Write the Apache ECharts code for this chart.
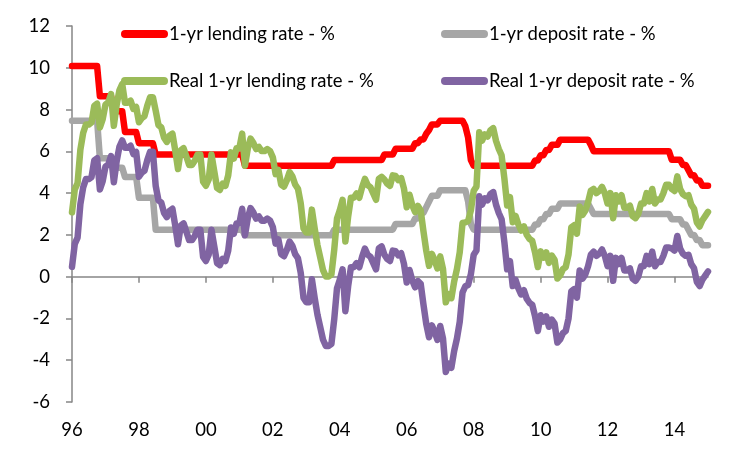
<!DOCTYPE html>
<html>
<head>
<meta charset="utf-8">
<title>China 1-yr rates</title>
<script src="https://cdn.jsdelivr.net/npm/echarts@6/dist/echarts.min.js"></script>
<style>
  html, body { margin: 0; padding: 0; background: #fff; }
  #main { width: 750px; height: 452px; }
</style>
</head>
<body>
<div id="main"></div>
<script>
// monthly, Dec-96 .. Dec-15 (229 points), one row per year
var lending = [
  10.08,
  10.08,10.08,10.08,10.08,10.08,10.08,10.08,10.08,10.08,8.64,8.64,8.64,
  8.64,8.64,7.92,7.92,7.92,7.92,6.93,6.93,6.93,6.93,6.93,6.39,
  6.39,6.39,6.39,6.39,6.39,5.85,5.85,5.85,5.85,5.85,5.85,5.85,
  5.85,5.85,5.85,5.85,5.85,5.85,5.85,5.85,5.85,5.85,5.85,5.85,
  5.85,5.85,5.85,5.85,5.85,5.85,5.85,5.85,5.85,5.85,5.85,5.85,
  5.85,5.31,5.31,5.31,5.31,5.31,5.31,5.31,5.31,5.31,5.31,5.31,
  5.31,5.31,5.31,5.31,5.31,5.31,5.31,5.31,5.31,5.31,5.31,5.31,
  5.31,5.31,5.31,5.31,5.31,5.31,5.31,5.31,5.31,5.58,5.58,5.58,
  5.58,5.58,5.58,5.58,5.58,5.58,5.58,5.58,5.58,5.58,5.58,5.58,
  5.58,5.58,5.58,5.85,5.85,5.85,5.85,6.12,6.12,6.12,6.12,6.12,
  6.12,6.12,6.39,6.39,6.57,6.57,6.84,7.02,7.29,7.29,7.29,7.47,
  7.47,7.47,7.47,7.47,7.47,7.47,7.47,7.47,7.20,6.66,5.58,5.31,
  5.31,5.31,5.31,5.31,5.31,5.31,5.31,5.31,5.31,5.31,5.31,5.31,
  5.31,5.31,5.31,5.31,5.31,5.31,5.31,5.31,5.31,5.56,5.56,5.81,
  5.81,6.06,6.06,6.31,6.31,6.31,6.56,6.56,6.56,6.56,6.56,6.56,
  6.56,6.56,6.56,6.56,6.56,6.31,6.00,6.00,6.00,6.00,6.00,6.00,
  6.00,6.00,6.00,6.00,6.00,6.00,6.00,6.00,6.00,6.00,6.00,6.00,
  6.00,6.00,6.00,6.00,6.00,6.00,6.00,6.00,6.00,6.00,5.60,5.60,
  5.60,5.60,5.35,5.35,5.10,4.85,4.85,4.60,4.60,4.35,4.35,4.35
];
var deposit = [
  7.47,
  7.47,7.47,7.47,7.47,7.47,7.47,7.47,7.47,7.47,5.67,5.67,5.67,
  5.67,5.67,5.22,5.22,5.22,5.22,4.77,4.77,4.77,4.77,4.77,3.78,
  3.78,3.78,3.78,3.78,3.78,2.25,2.25,2.25,2.25,2.25,2.25,2.25,
  2.25,2.25,2.25,2.25,2.25,2.25,2.25,2.25,2.25,2.25,2.25,2.25,
  2.25,2.25,2.25,2.25,2.25,2.25,2.25,2.25,2.25,2.25,2.25,2.25,
  2.25,1.98,1.98,1.98,1.98,1.98,1.98,1.98,1.98,1.98,1.98,1.98,
  1.98,1.98,1.98,1.98,1.98,1.98,1.98,1.98,1.98,1.98,1.98,1.98,
  1.98,1.98,1.98,1.98,1.98,1.98,1.98,1.98,1.98,2.25,2.25,2.25,
  2.25,2.25,2.25,2.25,2.25,2.25,2.25,2.25,2.25,2.25,2.25,2.25,
  2.25,2.25,2.25,2.25,2.25,2.25,2.25,2.52,2.52,2.52,2.52,2.52,
  2.52,2.52,2.79,2.79,3.06,3.06,3.33,3.60,3.87,3.87,3.87,4.14,
  4.14,4.14,4.14,4.14,4.14,4.14,4.14,4.14,4.14,3.60,2.52,2.25,
  2.25,2.25,2.25,2.25,2.25,2.25,2.25,2.25,2.25,2.25,2.25,2.25,
  2.25,2.25,2.25,2.25,2.25,2.25,2.25,2.25,2.25,2.50,2.50,2.75,
  2.75,3.00,3.00,3.25,3.25,3.25,3.50,3.50,3.50,3.50,3.50,3.50,
  3.50,3.50,3.50,3.50,3.50,3.25,3.00,3.00,3.00,3.00,3.00,3.00,
  3.00,3.00,3.00,3.00,3.00,3.00,3.00,3.00,3.00,3.00,3.00,3.00,
  3.00,3.00,3.00,3.00,3.00,3.00,3.00,3.00,3.00,3.00,2.75,2.75,
  2.75,2.75,2.50,2.50,2.25,2.00,2.00,1.75,1.75,1.50,1.50,1.50
];
var realLending = [
  3.08,
  4.18,4.48,6.08,6.88,7.28,7.28,7.38,8.18,8.28,7.14,7.54,8.24,
  8.34,8.74,7.22,8.22,8.92,9.22,8.33,8.33,8.43,8.03,8.13,7.39,
  7.59,7.69,8.19,8.59,8.59,7.95,7.25,7.15,6.65,6.45,6.75,6.85,
  6.05,5.15,6.05,6.15,5.75,5.35,5.35,5.55,5.85,5.85,4.55,4.35,
  4.65,5.85,5.05,4.25,4.15,4.45,4.35,4.85,5.95,5.65,6.15,6.15,
  6.85,5.31,6.11,6.61,6.41,6.11,6.21,6.01,6.01,6.11,6.01,5.71,
  4.91,5.11,4.41,4.31,4.61,5.01,4.81,4.41,4.21,3.51,2.31,2.11,
  2.11,3.21,2.31,1.51,0.91,0.31,0.01,0.01,0.11,1.28,2.78,3.18,
  3.68,1.68,2.88,3.78,3.78,3.98,3.78,4.28,4.68,4.38,4.28,3.98,
  3.68,4.68,4.78,4.65,4.45,4.35,4.85,4.82,4.62,4.72,4.22,3.32,
  3.92,3.42,3.09,3.39,3.17,2.17,1.24,0.52,1.09,0.79,0.39,0.97,
  0.37,-1.23,-0.83,-1.03,-0.23,0.37,1.17,2.57,2.60,2.66,3.18,4.11,
  4.31,6.91,6.51,6.81,6.71,7.01,7.11,6.51,6.11,5.81,4.71,3.41,
  3.81,2.61,2.91,2.51,2.21,2.41,2.01,1.81,1.71,1.16,0.46,1.21,
  0.91,1.16,0.66,1.01,0.81,-0.09,0.06,0.36,0.46,1.06,2.36,2.46,
  2.06,3.36,2.96,3.16,3.56,4.11,4.20,4.00,4.10,4.30,4.00,3.50,
  4.00,2.80,3.90,3.60,3.90,3.30,3.30,3.40,2.90,2.80,3.00,3.50,
  3.50,4.00,3.60,4.20,3.50,3.70,3.70,4.00,4.40,4.40,4.20,4.10,
  4.80,4.20,3.95,3.85,3.90,3.45,3.25,2.60,2.40,2.70,2.90,3.10
];
var realDeposit = [
  0.47,
  1.57,1.87,3.47,4.27,4.67,4.67,4.77,5.57,5.67,4.17,4.57,5.27,
  5.37,5.77,4.52,5.52,6.22,6.52,6.17,6.17,6.27,5.87,5.97,4.78,
  4.98,5.08,5.58,5.98,5.98,4.35,3.65,3.55,3.05,2.85,3.15,3.25,
  2.45,1.55,2.45,2.55,2.15,1.75,1.75,1.95,2.25,2.25,0.95,0.75,
  1.05,2.25,1.45,0.65,0.55,0.85,0.75,1.25,2.35,2.05,2.55,2.55,
  3.25,1.98,2.78,3.28,3.08,2.78,2.88,2.68,2.68,2.78,2.68,2.38,
  1.58,1.78,1.08,0.98,1.28,1.68,1.48,1.08,0.88,0.18,-1.02,-1.22,
  -1.22,-0.12,-1.02,-1.82,-2.42,-3.02,-3.32,-3.32,-3.22,-2.05,-0.55,-0.15,
  0.35,-1.65,-0.45,0.45,0.45,0.65,0.45,0.95,1.35,1.05,0.95,0.65,
  0.35,1.35,1.45,1.05,0.85,0.75,1.25,1.22,1.02,1.12,0.62,-0.28,
  0.32,-0.18,-0.51,-0.21,-0.34,-1.34,-2.27,-2.90,-2.33,-2.63,-3.03,-2.36,
  -2.96,-4.56,-4.16,-4.36,-3.56,-2.96,-2.16,-0.76,-0.46,-0.40,0.12,1.05,
  1.25,3.85,3.45,3.75,3.65,3.95,4.05,3.45,3.05,2.75,1.65,0.35,
  0.75,-0.45,-0.15,-0.55,-0.85,-0.65,-1.05,-1.25,-1.35,-1.90,-2.60,-1.85,
  -2.15,-1.90,-2.40,-2.05,-2.25,-3.15,-3.00,-2.70,-2.60,-2.00,-0.70,-0.60,
  -1.00,0.30,-0.10,0.10,0.50,1.05,1.20,1.00,1.10,1.30,1.00,0.50,
  1.00,-0.20,0.90,0.60,0.90,0.30,0.30,0.40,-0.10,-0.20,0.00,0.50,
  0.50,1.00,0.60,1.20,0.50,0.70,0.70,1.00,1.40,1.40,1.35,1.25,
  1.95,1.35,1.10,1.00,1.05,0.60,0.40,-0.25,-0.45,-0.15,0.05,0.25
];
var tickLabels = ['96','98','00','02','04','06','08','10','12','14'];

// month categories, starting Dec-96
var months = [];
for (var i = 0; i < lending.length; i++) {
  var m = 11 + i;
  months.push((1996 + Math.floor(m / 12)) + '-' + ((m % 12) + 1));
}

var font = 'Lato';
var fs = 18.5;
var axisGrey = '#868686';
var pill = 'path://M4,0 L43,0 A4,4 0 0 1 43,8 L4,8 A4,4 0 0 1 4,0 Z';

var myChart = echarts.init(document.getElementById('main'));

function line(name, data, color) {
  return {
    name: name,
    type: 'line',
    data: data,
    showSymbol: false,
    symbol: 'none',
    lineStyle: { color: color, width: 6.5, join: 'round', cap: 'round' },
    itemStyle: { color: color }
  };
}

var legendBase = {
  orient: 'vertical',
  top: 18,
  itemWidth: 47,
  itemHeight: 8,
  itemGap: 25,
  icon: pill,
  textStyle: { fontFamily: font, fontSize: fs, color: '#000', lineHeight: 22, padding: [0, 0, 0, -4] }
};

var option = {
  animation: false,
  grid: { left: 72, right: 42, top: 26, bottom: 50 },
  legend: [
    Object.assign({}, legendBase, { left: 116, data: ['1-yr lending rate - %', 'Real 1-yr lending rate - %'] }),
    Object.assign({}, legendBase, { left: 436, data: ['1-yr deposit rate - %', 'Real 1-yr deposit rate - %'] })
  ],
  xAxis: [{
    // labels at the bottom
    type: 'category',
    data: months,
    boundaryGap: false,
    position: 'bottom',
    axisLine: { show: false, onZero: false },
    axisTick: { show: false },
    axisLabel: {
      interval: 23,
      margin: 19,
      fontFamily: font,
      fontSize: fs,
      color: '#000',
      formatter: function (v, idx) { return tickLabels[idx / 24]; }
    }
  }, {
    // axis line crossing at zero
    type: 'category',
    data: months,
    boundaryGap: false,
    position: 'bottom',
    axisLine: { show: true, onZero: true, lineStyle: { color: axisGrey, width: 1.5 } },
    axisTick: { show: true, interval: 23, length: 6, lineStyle: { color: axisGrey, width: 1.5 } },
    axisLabel: { show: false }
  }],
  yAxis: {
    type: 'value',
    min: -6,
    max: 12,
    interval: 2,
    axisLine: { show: true, lineStyle: { color: axisGrey, width: 1.5 } },
    axisTick: { show: true, length: 6, lineStyle: { color: axisGrey, width: 1.5 } },
    splitLine: { show: false },
    axisLabel: { margin: 22, fontFamily: font, fontSize: fs, color: '#000' }
  },
  series: [
    line('1-yr lending rate - %', lending, '#FF0000'),
    line('1-yr deposit rate - %', deposit, '#A6A6A6'),
    line('Real 1-yr lending rate - %', realLending, '#9BBB59'),
    line('Real 1-yr deposit rate - %', realDeposit, '#8064A2')
  ]
};

myChart.setOption(option);
</script>
</body>
</html>
